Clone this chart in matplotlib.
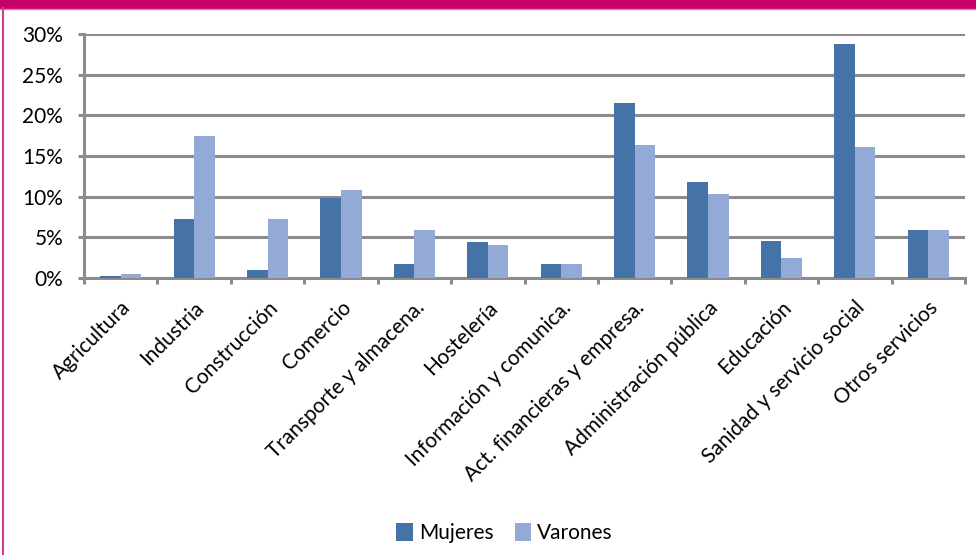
import matplotlib
matplotlib.use("Agg")
import matplotlib.pyplot as plt
from matplotlib.patches import Rectangle
from matplotlib.lines import Line2D
from matplotlib.ticker import FixedLocator, FuncFormatter
import numpy as np

categories = ["Agricultura", "Industria", "Construcción", "Comercio",
              "Transporte y almacena.", "Hostelería", "Información y comunica.",
              "Act. financieras y empresa.", "Administración pública",
              "Educación", "Sanidad y servicio social", "Otros servicios"]
mujeres = [0.2, 7.2, 1.0, 9.8, 1.7, 4.4, 1.7, 21.5, 11.8, 4.6, 28.8, 5.9]
varones = [0.5, 17.4, 7.2, 10.8, 5.9, 4.0, 1.7, 16.3, 10.3, 2.5, 16.1, 5.9]
yticks = [0, 5, 10, 15, 20, 25, 30]

plt.rcParams['font.family'] = ['Lato', 'DejaVu Sans']

fig = plt.figure(figsize=(9.76, 5.55), dpi=100)
magenta = "#C4006A"
fig.patches.append(Rectangle((0, 1 - 8/555), 1, 8/555, transform=fig.transFigure,
                             color=magenta, zorder=0))
fig.add_artist(Line2D([0, 1], [1 - 9/555, 1 - 9/555], transform=fig.transFigure,
                      color="#E07AAE", lw=1))
fig.add_artist(Line2D([3/976, 3/976], [0, 1 - 8/555], transform=fig.transFigure,
                      color="#D0408A", lw=1.5))

ax = fig.add_axes([84/976, 1 - 278/555, (965 - 84)/976, (278 - 34)/555])
x = np.arange(len(categories))
w = 0.28
ax.bar(x - w/2, mujeres, w, color="#4572A7", label="Mujeres", zorder=3)
ax.bar(x + w/2, varones, w, color="#93AAD6", label="Varones", zorder=3)

ax.set_xlim(-0.5, len(categories) - 0.5)
ax.set_ylim(0, 30)
grey = "#8C8C8C"
ax.set_yticks(yticks)
ax.yaxis.set_major_formatter(FuncFormatter(lambda v, p: f"{int(v)}%"))
ax.yaxis.grid(True, color=grey, lw=2.2, zorder=0)
ax.set_axisbelow(True)
for s in ["top", "right"]:
    ax.spines[s].set_visible(False)
for s in ["left", "bottom"]:
    ax.spines[s].set_color(grey)
    ax.spines[s].set_linewidth(2.2)
ax.tick_params(axis="y", length=4, width=2.2, color=grey, labelsize=15, pad=11)

ax.set_xticks(x)
ax.set_xticklabels(categories, rotation=45, ha="right", rotation_mode="anchor",
                   fontsize=15)
ax.tick_params(axis="x", which="major", length=0, pad=14)
ax.xaxis.set_minor_locator(FixedLocator(np.arange(-0.5, len(categories), 1.0)))
ax.tick_params(axis="x", which="minor", length=4.5, width=2.2, color=grey)

handles, labels = ax.get_legend_handles_labels()
fig.legend(handles, labels, loc="center", bbox_to_anchor=(0.517, 0.040), ncol=2,
           frameon=False, fontsize=15, handlelength=0.8, handleheight=1.0,
           handletextpad=0.3, columnspacing=1.0)

fig.savefig("out.png", dpi=100)
